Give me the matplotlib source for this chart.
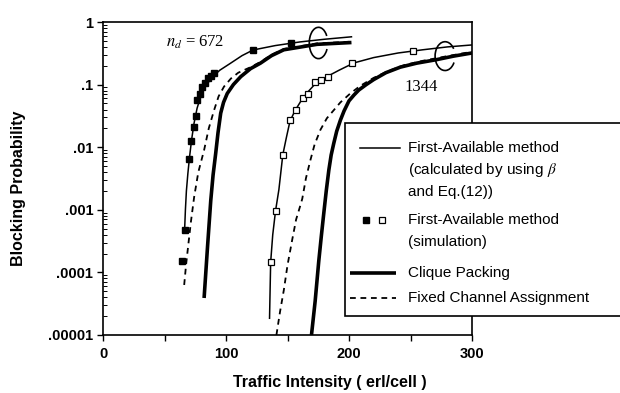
import matplotlib
matplotlib.use("Agg")
import matplotlib.pyplot as plt
from matplotlib.lines import Line2D
from matplotlib.patches import Rectangle, Arc
from matplotlib.ticker import FixedLocator, FixedFormatter, LogLocator, NullFormatter

plt.rcParams['font.family'] = ['Liberation Sans', 'DejaVu Sans']
plt.rcParams['mathtext.fontset'] = 'stix'

# ---------------- data ----------------
# n_d = 672
fa672_x = [66.3, 67.0, 67.8, 69.0, 70.3, 72.0, 74.0, 76.5, 79.5, 83.5, 88.5, 95, 103, 113, 122, 140, 160, 180, 202]
fa672_y = [4.5e-4, 1.0e-3, 2.0e-3, 3.8e-3, 6.8e-3, 0.013, 0.024, 0.042, 0.065, 0.095, 0.13, 0.17, 0.215, 0.29, 0.357, 0.42, 0.48, 0.53, 0.58]
sim672_x = [64.6, 66.5, 70.0, 71.9, 74.1, 75.4, 76.8, 78.9, 80.8, 83.0, 85.4, 87.6, 90.3, 121.7, 152.5]
sim672_y = [1.5e-4, 4.7e-4, 0.0064, 0.0127, 0.021, 0.031, 0.057, 0.072, 0.091, 0.107, 0.126, 0.139, 0.151, 0.357, 0.47]
cp672_x = [82.2, 85.0, 87.6, 89.5, 91.6, 93.5, 95.7, 98.0, 101, 106, 112, 120, 128, 137, 147, 174, 202]
cp672_y = [3.9e-5, 2.6e-4, 1.4e-3, 3.6e-3, 7.9e-3, 0.017, 0.035, 0.052, 0.072, 0.10, 0.134, 0.18, 0.22, 0.29, 0.36, 0.44, 0.47]
fca672_x = [66.0, 67.5, 69.2, 71.5, 74.1, 77.5, 82.2, 86.0, 90.3, 94.0, 98.4, 104, 110, 120, 128, 137, 147, 174, 202]
fca672_y = [6.3e-5, 1.3e-4, 2.6e-4, 6.5e-4, 1.6e-3, 4.0e-3, 9.0e-3, 0.02, 0.039, 0.065, 0.093, 0.125, 0.155, 0.19, 0.23, 0.30, 0.37, 0.455, 0.485]

# n_d = 1344
fa1344_x = [135.4, 136.3, 138, 140.3, 143, 146.2, 149, 152, 156, 161, 167, 173, 182, 192, 204, 220, 240, 260, 280, 300]
fa1344_y = [1.85e-5, 1.45e-4, 4e-4, 9.7e-4, 2.1e-3, 7.6e-3, 0.014, 0.026, 0.038, 0.055, 0.078, 0.105, 0.134, 0.17, 0.222, 0.27, 0.32, 0.36, 0.40, 0.43]
sim1344_x = [136.3, 140.3, 146.2, 151.7, 157.0, 162.5, 166.8, 172.2, 177.3, 182.7, 202.5, 251.7]
sim1344_y = [1.45e-4, 9.7e-4, 7.6e-3, 0.027, 0.039, 0.062, 0.071, 0.109, 0.118, 0.134, 0.219, 0.35]
cp1344_x = [169.5, 172.5, 175.4, 177.5, 179.5, 181.5, 183.6, 185.5, 187.6, 190, 193, 196, 200, 204, 208, 214, 220, 230, 241.7, 255, 271, 285, 300]
cp1344_y = [1e-5, 3.5e-5, 1.5e-4, 3.8e-4, 8.8e-4, 2.0e-3, 4.3e-3, 7.5e-3, 0.0115, 0.018, 0.027, 0.038, 0.055, 0.068, 0.082, 0.10, 0.12, 0.155, 0.19, 0.22, 0.25, 0.285, 0.32]
fca1344_x = [141, 144, 147, 150, 153.8, 157, 160.6, 162, 165, 168.7, 172, 176.8, 182, 187.6, 193, 201, 209, 220, 232, 245, 260, 280, 300]
fca1344_y = [1e-5, 2.4e-5, 5.2e-5, 1.3e-4, 3.3e-4, 7e-4, 1.2e-3, 1.5e-3, 3.2e-3, 6.3e-3, 0.011, 0.019, 0.029, 0.039, 0.052, 0.072, 0.095, 0.128, 0.165, 0.205, 0.24, 0.285, 0.335]

ytick_vals = [1e-5, 1e-4, 1e-3, 1e-2, 1e-1, 1]
ytick_labels = ['.00001', '.0001', '.001', '.01', '.1', '1']
xtick_vals = [0, 50, 100, 150, 200, 250, 300]
xtick_labels = ['0', '', '100', '', '200', '', '300']

# ---------------- figure ----------------
W, H = 620, 393
fig = plt.figure(figsize=(W / 100, H / 100), dpi=100)

def fx(px):
    return px / W

def fy(py):
    return 1 - py / H

ax_l, ax_r, ax_t, ax_b = 103, 472, 22, 335
ax = fig.add_axes([fx(ax_l), fy(ax_b), fx(ax_r) - fx(ax_l), fy(ax_t) - fy(ax_b)])
ax.set_yscale('log')
ax.set_xlim(0, 300)
ax.set_ylim(1e-5, 1)

thin = dict(color='black', lw=1.1)
thick = dict(color='black', lw=2.6, solid_capstyle='butt')
dash = dict(color='black', lw=1.3, dashes=(3.2, 2.6))

ax.plot(fa672_x, fa672_y, **thin)
ax.plot(cp672_x, cp672_y, **thick)
ax.plot(fca672_x, fca672_y, **dash)
ax.plot(sim672_x, sim672_y, ls='none', marker='s', ms=4.5, mfc='black', mec='black')

ax.plot(fa1344_x, fa1344_y, **thin)
ax.plot(cp1344_x, cp1344_y, **thick)
ax.plot(fca1344_x, fca1344_y, **dash)
ax.plot(sim1344_x, sim1344_y, ls='none', marker='s', ms=5, mfc='white', mec='black', mew=0.9)

# ticks
ax.yaxis.set_major_locator(FixedLocator(ytick_vals))
ax.yaxis.set_major_formatter(FixedFormatter(ytick_labels))
ax.yaxis.set_minor_locator(LogLocator(base=10, subs=range(2, 10)))
ax.yaxis.set_minor_formatter(NullFormatter())
ax.set_xticks(xtick_vals)
ax.set_xticklabels(xtick_labels)
ax.tick_params(axis='y', which='major', direction='out', length=4, width=1.0, pad=3, labelsize=10.5)
ax.tick_params(axis='y', which='minor', direction='in', length=3, width=0.7)
ax.tick_params(axis='x', which='major', direction='out', length=4, width=1.0, pad=5, labelsize=10.5)
for lab in ax.get_xticklabels() + ax.get_yticklabels():
    lab.set_fontweight('bold')
for s in ax.spines.values():
    s.set_linewidth(1.2)

# axis labels
fig.text(fx(330), fy(382), 'Traffic Intensity ( erl/cell )', ha='center', va='center',
         fontsize=11.5, fontweight='bold')
fig.text(fx(19), fy(188), 'Blocking Probability', ha='center', va='center', rotation=90,
         fontsize=11.5, fontweight='bold')

# annotations
ax.text(0.249, 0.936, r'$\mathit{n}_{\mathit{d}}$ = 672', transform=ax.transAxes, ha='center', va='center',
        fontsize=12, family=['Liberation Serif', 'DejaVu Serif'])
ax.text(0.862, 0.792, '1344', transform=ax.transAxes, ha='center', va='center',
        fontsize=12, family=['Liberation Serif', 'DejaVu Serif'])
ax.add_patch(Arc((0.584, 0.933), 0.05, 0.10, theta1=45, theta2=320, transform=ax.transAxes,
                 color='black', lw=1.2))
ax.add_patch(Arc((0.927, 0.891), 0.054, 0.092, theta1=45, theta2=320, transform=ax.transAxes,
                 color='black', lw=1.2))

# legend (manual, extends past the axes)
box = Rectangle((fx(345), fy(316)), fx(700) - fx(345), fy(123) - fy(316), transform=fig.transFigure,
                facecolor='white', edgecolor='black', lw=1.2, zorder=5)
fig.add_artist(box)
tx = fx(408)
fs = 11
def ltxt(py, s):
    return fig.text(tx, fy(py), s, ha='left', va='center', fontsize=fs, zorder=6)

fig.add_artist(Line2D([fx(360), fx(400)], [fy(148), fy(148)], transform=fig.transFigure, zorder=6, **thin))
ltxt(148, 'First-Available method')
ltxt(170, r'(calculated by using $\beta$')
ltxt(192, 'and Eq.(12))')
fig.add_artist(Line2D([fx(366)], [fy(220)], transform=fig.transFigure, ls='none', marker='s', ms=4.5,
                      mfc='black', mec='black', zorder=6))
fig.add_artist(Line2D([fx(382)], [fy(220)], transform=fig.transFigure, ls='none', marker='s', ms=4.5,
                      mfc='white', mec='black', mew=0.9, zorder=6))
ltxt(220, 'First-Available method')
ltxt(242, '(simulation)')
fig.add_artist(Line2D([fx(350), fx(396)], [fy(273), fy(273)], transform=fig.transFigure, zorder=6, **thick))
ltxt(273, 'Clique Packing')
fig.add_artist(Line2D([fx(350), fx(396)], [fy(298), fy(298)], transform=fig.transFigure, zorder=6, **dash))
ltxt(298, 'Fixed Channel Assignment')

fig.savefig('out.png', dpi=100)
